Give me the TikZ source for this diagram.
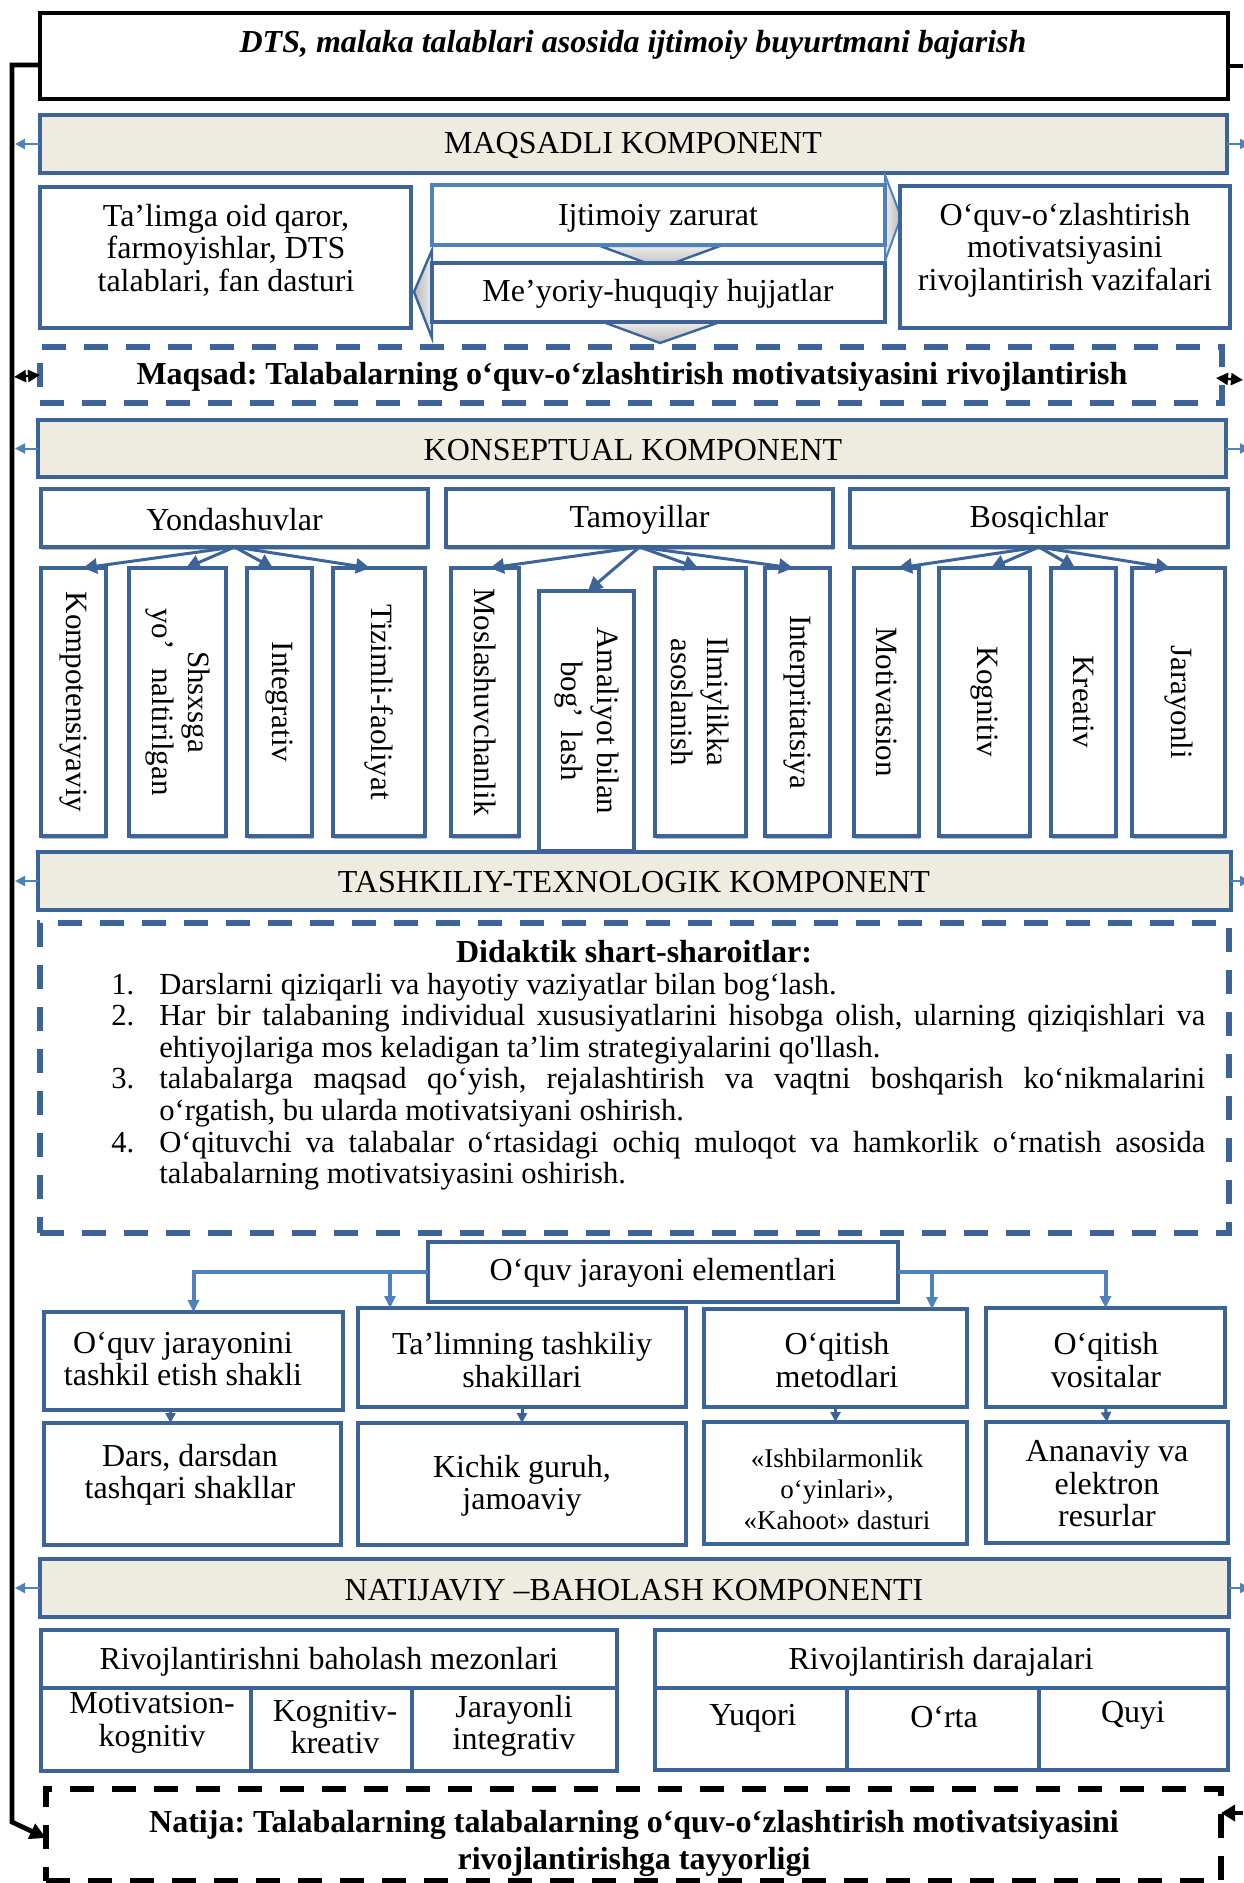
\documentclass[tikz,border=0pt]{standalone}
\usepackage{fontspec}
\setmainfont{Liberation Serif}
\usetikzlibrary{arrows.meta,calc,shadows}
\definecolor{dblue}{HTML}{3C6498}
\definecolor{lblue}{HTML}{4F81BD}
\definecolor{tanfill}{HTML}{EEECE1}
\newcommand\rbox[6]{\node[#6, minimum width={(#4-#2)*0.5pt}, minimum height={(#5-#3)*0.5pt}] (#1) at ({(#2+#4)/2},{(#3+#5)/2}) {};}
\newcommand\ditem[2]{\hangindent=24pt\hangafter=1\noindent\makebox[24pt][l]{#1}#2\par}
\tikzset{
 box/.style={draw=dblue, line width=1.8pt, fill=white, inner sep=0, outer sep=0},
 bar/.style={box, fill=tanfill},
 dbox/.style={draw=dblue, line width=2.6pt, dash pattern=on 12pt off 9pt, inner sep=0, outer sep=0},
 nbox/.style={draw=black, line width=2.6pt, dash pattern=on 12pt off 9pt, inner sep=0, outer sep=0},
 t16/.style={font=\fontsize{16}{16.25}\selectfont, align=center, inner sep=0},
 tsm/.style={font=\fontsize{13.5}{15.5}\selectfont, align=center, inner sep=0},
 tb/.style={font=\bfseries\fontsize{16}{18.5}\selectfont, align=center, inner sep=0},
 vt/.style={font=\fontsize{15.5}{18}\selectfont, align=center, inner sep=0, rotate=-90},
 carr/.style={draw=dblue, line width=1.5pt, -{Triangle[length=7pt,width=7.5pt]}},
 sarr/.style={draw=lblue, line width=1pt, -{Triangle[length=5pt,width=5pt]}},
 larr/.style={draw=lblue, line width=2pt, -{Triangle[length=6pt,width=5.5pt]}},
 darr/.style={draw=dblue, line width=1.5pt, -{Triangle[length=5pt,width=5pt]}},
 blk/.style={draw=black, line width=2.4pt},
 shad/.style={drop shadow={shadow xshift=0.6pt, shadow yshift=-1.4pt, fill=black!45, opacity=0.6}},
}
\frenchspacing
\begin{document}
\frenchspacing
\begin{tikzpicture}[x=0.5pt,y=-0.5pt]
\useasboundingbox (0,0) rectangle (1243,1883);
\coordinate (lx) at (15,0);
\coordinate (rx) at (1250,0);

% ---------- top ----------
\rbox{top}{40}{13}{1228}{99}{draw=black,line width=1.7pt,fill=white,inner sep=0,outer sep=0}
\node[font=\bfseries\itshape\fontsize{16}{18}\selectfont, inner sep=0] (topt) at (633,45) {DTS, malaka talablari asosida ijtimoiy buyurtmani bajarish};

% ---------- MAQSADLI ----------
\rbox{maq}{40}{115}{1227}{173}{bar}
\node[t16] (maqt) at (633,146) {MAQSADLI KOMPONENT};

\path[draw=lblue, line width=1pt, left color=gray!15, right color=gray!55] (885,175) -- (901,217) -- (885,261) -- cycle;
\path[draw=dblue, line width=1.2pt, left color=gray!55, right color=gray!15] (432,250) -- (414,292) -- (432,338) -- cycle;
\path[draw=dblue, line width=1.2pt, top color=gray!15, bottom color=gray!55] (600,246) -- (720,246) -- (660,268) -- cycle;
\path[draw=dblue, line width=1.2pt, top color=gray!15, bottom color=gray!55] (603,322) -- (720,322) -- (660,343) -- cycle;

\rbox{lb}{40}{187}{411}{328}{box}
\node[t16] (lbt) at (226,250) {Ta’limga oid qaror,\\ farmoyishlar, DTS\\ talablari, fan dasturi};
\rbox{ijt}{432}{185}{885}{245}{box, draw=lblue}
\node[t16] (ijtt) at (658,218) {Ijtimoiy zarurat};
\rbox{mey}{432}{263}{885}{322}{box}
\node[t16] (meyt) at (658,294) {Me’yoriy-huquqiy hujjatlar};
\rbox{rb}{900}{186}{1230}{328}{box}
\node[t16] (rbt) at (1065,250) {O‘quv-o‘zlashtirish\\ motivatsiyasini\\ rivojlantirish vazifalari};

\rbox{maqs}{40}{347}{1222}{403}{dbox}
\node[tb] (maqst) at (632,377) {Maqsad: Talabalarning o‘quv-o‘zlashtirish motivatsiyasini rivojlantirish};

% ---------- KONSEPTUAL ----------
\rbox{kon}{38}{420}{1226}{477}{bar}
\node[t16] (kont) at (633,450) {KONSEPTUAL KOMPONENT};

\rbox{yon}{41}{489}{428}{547}{box,shad}
\node[t16] (yont) at (234.5,520) {Yondashuvlar};
\rbox{tam}{446}{489}{833}{547}{box,shad}
\node[t16] (tamt) at (639.5,520) {Tamoyillar};
\rbox{bos}{850}{489}{1228}{547}{box,shad}
\node[t16] (bost) at (1039,520) {Bosqichlar};

\rbox{kompo}{41}{568}{106}{836}{box,shad}
\node[vt] (kompot) at (kompo.center) {Kompotensiyaviy};
\rbox{shs}{129}{568}{226}{836}{box,shad}
\node[vt] (shst) at (shs.center) {Shsxsga\\ yo’\hspace{0.6em}naltirilgan};
\rbox{integ}{247}{568}{312}{836}{box,shad}
\node[vt] (integt) at (integ.center) {Integrativ};
\rbox{tiz}{333}{568}{425}{836}{box,shad}
\node[vt] (tizt) at (tiz.center) {Tizimli-faoliyat};
\rbox{mos}{451}{568}{519}{836}{box,shad}
\node[vt] (most) at (mos.center) {Moslashuvchanlik};
\rbox{ama}{539}{591}{634}{851}{box,shad}
\node[vt] (amat) at (ama.center) {Amaliyot bilan\\ bog’\hspace{0.4em}lash};
\rbox{ilm}{655}{568}{746}{836}{box,shad}
\node[vt] (ilmt) at (ilm.center) {Ilmiylikka\\ asoslanish};
\rbox{intp}{765}{568}{830}{836}{box,shad}
\node[vt] (intpt) at (intp.center) {Interpritatsiya};
\rbox{mot}{854}{568}{919}{836}{box,shad}
\node[vt] (mott) at (mot.center) {Motivatsion};
\rbox{kog}{939}{568}{1030}{836}{box,shad}
\node[vt] (kogt) at (kog.center) {Kognitiv};
\rbox{kre}{1051}{568}{1116}{836}{box,shad}
\node[vt] (kret) at (kre.center) {Kreativ};
\rbox{jar}{1132}{568}{1225}{836}{box,shad}
\node[vt] (jart) at (jar.center) {Jarayonli};

\draw[carr] (yon.south) -- ($(kompo.north)+(9.5,0)$);
\draw[carr] (yon.south) -- ($(shs.north)+(8.5,0)$);
\draw[carr] (yon.south) -- ($(integ.north)+(-6.5,0)$);
\draw[carr] (yon.south) -- ($(tiz.north)+(-9,0)$);
\draw[carr] (tam.south) -- ($(mos.north)+(5,0)$);
\draw[carr] (tam.south) -- ($(ama.north)+(1.5,0)$);
\draw[carr] (tam.south) -- ($(ilm.north)+(-2.5,0)$);
\draw[carr] (tam.south) -- ($(intp.north)+(-4.5,0)$);
\draw[carr] (bos.south) -- ($(mot.north)+(11.5,0)$);
\draw[carr] (bos.south) -- ($(kog.north)+(6.5,0)$);
\draw[carr] (bos.south) -- ($(kre.north)+(-8.5,0)$);
\draw[carr] (bos.south) -- ($(jar.north)+(-8.5,0)$);

% ---------- TASHKILIY ----------
\rbox{tash}{38}{852}{1231}{910}{bar}
\node[t16] (tasht) at (634,882) {TASHKILIY-TEXNOLOGIK KOMPONENT};

\rbox{did}{40}{923}{1229}{1233}{dbox}
\node[tb] (didt) at (634,952) {Didaktik shart-sharoitlar:};
\node[anchor=base west, inner sep=0] (dlist) at (111,994) {\begin{minipage}[t]{547pt}\fontsize{15.3}{15.8}\selectfont\parindent=0pt\frenchspacing
\ditem{1.}{Darslarni qiziqarli va hayotiy vaziyatlar bilan bog‘lash.}
\ditem{2.}{Har bir talabaning individual xususiyatlarini hisobga olish, ularning qiziqishlari va\linebreak ehtiyojlariga mos keladigan ta’lim strategiyalarini qo\textquotesingle llash.}
\ditem{3.}{talabalarga maqsad qo‘yish, rejalashtirish va vaqtni boshqarish ko‘nikmalarini\linebreak o‘rgatish, bu ularda motivatsiyani oshirish.}
\ditem{4.}{O‘qituvchi va talabalar o‘rtasidagi ochiq muloqot va hamkorlik o‘rnatish asosida\linebreak talabalarning motivatsiyasini oshirish.}
\end{minipage}};

% ---------- O'quv jarayoni ----------
\rbox{oqe}{428}{1242}{898}{1302}{box}
\node[t16] (oqet) at (663,1273) {O‘quv jarayoni elementlari};

\rbox{a1}{44}{1312}{343}{1410}{box}
\node[t16] (a1t) at (183,1359) {O‘quv jarayonini\\ tashkil etish shakli};
\rbox{a2}{358}{1308}{686}{1407}{box}
\node[t16] (a2t) at (522,1360) {Ta’limning tashkiliy\\ shakillari};
\rbox{a3}{704}{1309}{967}{1407}{box}
\node[t16] (a3t) at (837,1360) {O‘qitish\\ metodlari};
\rbox{a4}{986}{1308}{1225}{1407}{box}
\node[t16] (a4t) at (1106,1360) {O‘qitish\\ vositalar};

\rbox{b1}{44}{1423}{341}{1545}{box}
\node[t16] (b1t) at (190,1475) {Dars, darsdan\\ tashqari shakllar};
\rbox{b2}{358}{1423}{686}{1545}{box}
\node[t16] (b2t) at (522,1486) {Kichik guruh,\\ jamoaviy};
\rbox{b3}{704}{1422}{967}{1544}{box}
\node[tsm] (b3t) at (837,1489) {«Ishbilarmonlik\\ o‘yinlari»,\\ «Kahoot» dasturi};
\rbox{b4}{986}{1422}{1228}{1543}{box}
\node[t16] (b4t) at (1107,1484) {Ananaviy va\\ elektron\\ resurlar};

\coordinate (t1) at (a1.north);
\coordinate (t2) at ($(a2.north west)+(32,0)$);
\coordinate (t3) at ($(a3.north west)+(228,0)$);
\coordinate (t4) at (a4.north);
\draw[larr] (oqe.west) -| (t1);
\draw[larr] (oqe.west -| t2) -- (t2);
\draw[larr] (oqe.east) -| (t4);
\draw[larr] (oqe.east -| t3) -- (t3);

\draw[darr] ($(a1.south)+(-23,0)$) -- ($(b1.north)+(-22,0)$);
\draw[darr] (a2.south) -- (b2.north);
\draw[darr] (a3.south) -- (b3.north);
\draw[darr] (a4.south) -- (b4.north);

% ---------- NATIJAVIY ----------
\rbox{nat}{40}{1559}{1229}{1617}{bar}
\node[t16] (natt) at (634,1590) {NATIJAVIY –BAHOLASH KOMPONENTI};

\rbox{mez}{41}{1630}{617}{1688}{box}
\node[t16] (mezt) at (329,1662) {Rivojlantirishni baholash mezonlari};
\rbox{c1}{41}{1688}{251}{1771}{box}
\node[t16] (c1t) at (152,1723) {Motivatsion-\\kognitiv};
\rbox{c2}{251}{1688}{412}{1771}{box}
\node[t16] (c2t) at (335,1727) {Kognitiv-\\kreativ};
\rbox{c3}{412}{1688}{617}{1771}{box}
\node[t16] (c3t) at (514,1726) {Jarayonli\\integrativ};

\rbox{dar}{655}{1630}{1228}{1688}{box}
\node[t16] (dart) at (941,1662) {Rivojlantirish darajalari};
\rbox{d1}{655}{1688}{847}{1770}{box}
\node[t16] (d1t) at (753,1718) {Yuqori};
\rbox{d2}{847}{1688}{1039}{1770}{box}
\node[t16] (d2t) at (944,1717) {O‘rta};
\rbox{d3}{1039}{1688}{1228}{1770}{box}
\node[t16] (d3t) at (1133,1715) {Quyi};

\rbox{ntj}{46}{1789}{1221}{1881}{nbox}
\node[font=\bfseries\fontsize{16}{18.5}\selectfont, align=center, inner sep=0] (ntjt) at (634,1843) {Natija: Talabalarning talabalarning o‘quv-o‘zlashtirish motivatsiyasini\\ rivojlantirishga tayyorligi};

% ---------- side arrows ----------
\foreach \b in {maq,kon,tash,nat}{
  \draw[sarr] (\b.west) -- (\b.west -| lx);
  \draw[sarr] (\b.east) -- (\b.east -| rx);
}

% ---------- black frame ----------
\coordinate (fl1) at (12,65);
\coordinate (fl2) at (12,1822);
\coordinate (fr1) at (1243,66);
\coordinate (fr2) at (1243,1813);
\draw[blk, -{Triangle[length=8pt,width=8pt]}] ($(top.west)+(0,9)$) -- (fl1) -- (fl2) -- ($(ntj.west)+(0,3)$);
\draw[blk] ($(top.east)+(0,10)$) -- (fr1);
\draw[blk, -{Triangle[length=7pt,width=8pt]}] (fr2) -- ($(ntj.east)+(0,-22)$);

\coordinate (ml) at (14,377);
\coordinate (mr) at (1243,380);
\draw[draw=black, line width=1.2pt, {Triangle[length=6pt,width=6pt]}-{Triangle[length=6pt,width=6pt]}] (ml) -- (maqs.west);
\draw[draw=black, line width=1.2pt, {Triangle[length=6pt,width=6pt]}-{Triangle[length=6pt,width=6pt]}] ($(maqs.east)+(-6,3)$) -- (mr);
\end{tikzpicture}
\end{document}
